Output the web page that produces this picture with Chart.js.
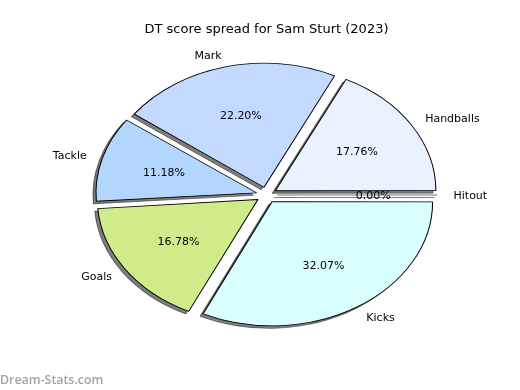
<!DOCTYPE html>
<html>
<head>
<meta charset="utf-8">
<script src="https://cdn.jsdelivr.net/npm/chart.js@4/dist/chart.umd.min.js"></script>
<style>
  html, body { margin: 0; padding: 0; background: #fff; }
  #wrap { width: 520px; height: 390px; }
</style>
</head>
<body>
<div id="wrap"><canvas id="pie" width="520" height="390"></canvas></div>
<script>
// values in matplotlib order (counter-clockwise from 3 o'clock)
const categories = ['Handballs', 'Mark', 'Tackle', 'Goals', 'Kicks', 'Hitout'];
const shares = [17.76, 22.20, 11.18, 16.78, 32.07, 0.00];
const sliceColors = ['#eaf1ff', '#c4d9ff', '#b3d6ff', '#d0eb8a', '#d9ffff', '#d0d0d0'];

// Chart.js goes clockwise, so feed it reversed
const cLabels = categories.slice().reverse();
const cValues = shares.slice().reverse();
const cColors = sliceColors.slice().reverse();

const SX = 1.295;        // stretch in x, the original pie is an ellipse
const FONT = '"DejaVu Sans", sans-serif';
const SHADOW = 'rgba(0,0,0,0.5)';

function stretch(ctx, cx, cy) {
  ctx.translate(cx, cy);
  ctx.scale(SX, 1);
  ctx.translate(-cx, -cy);
}

// chart.js grows small exploded arcs by offset*fix, take that back out
function undoGrow(arcs) {
  arcs.forEach(arc => {
    if (arc._R0 === undefined) arc._R0 = arc.outerRadius;
    const off = arc.options.offset / 4;
    const fix = 1 - Math.sin(Math.min(Math.PI, arc.circumference || 0));
    arc.outerRadius = arc._R0 - off * fix;
  });
}

function restoreR(arcs) {
  arcs.forEach(arc => { if (arc._R0 !== undefined) arc.outerRadius = arc._R0; });
}

function drawHitout(ctx, arc, color) {
  if (arc.circumference !== 0) return;
  const off = arc.options.offset / 4;
  const a = arc.startAngle;
  const R = arc._R0 || arc.outerRadius;
  ctx.beginPath();
  ctx.moveTo(arc.x + Math.cos(a) * off, arc.y + Math.sin(a) * off);
  ctx.lineTo(arc.x + Math.cos(a) * (off + R), arc.y + Math.sin(a) * (off + R));
  ctx.strokeStyle = color;
  ctx.lineWidth = 1;
  ctx.stroke();
}

const ellipsePie = {
  id: 'ellipsePie',
  beforeDatasetsDraw(chart) {
    const ctx = chart.ctx;
    const arcs = chart.getDatasetMeta(0).data;
    undoGrow(arcs);
    // shadow pass
    ctx.save();
    ctx.translate(-3, 2.5);
    stretch(ctx, arcs[0].x, arcs[0].y);
    arcs.forEach(arc => {
      const o = arc.options;
      arc.options = Object.assign({}, o, { backgroundColor: SHADOW, borderColor: SHADOW });
      arc.draw(ctx);
      arc.options = o;
      drawHitout(ctx, arc, SHADOW);
    });
    ctx.restore();
    ctx.save();
    stretch(ctx, arcs[0].x, arcs[0].y);
  },
  afterDatasetsDraw(chart) {
    const ctx = chart.ctx;
    const arcs = chart.getDatasetMeta(0).data;
    arcs.forEach(arc => drawHitout(ctx, arc, 'rgba(0,0,0,0.55)'));
    ctx.restore();
    restoreR(arcs);

    ctx.save();
    ctx.font = '11px ' + FONT;
    ctx.fillStyle = '#000';
    ctx.textBaseline = 'middle';
    arcs.forEach((arc, i) => {
      const mid = (arc.startAngle + arc.endAngle) / 2;
      const off = arc.options.offset / 4;
      const R = arc.outerRadius;
      const at = f => [arc.x + (f * R + off) * Math.cos(mid) * SX, arc.y + (f * R + off) * Math.sin(mid) + 1];
      let [px, py] = at(0.6);
      ctx.textAlign = 'center';
      ctx.fillText(cValues[i].toFixed(2) + '%', px, py);
      [px, py] = at(1.1);
      ctx.textAlign = Math.cos(mid) > 0 ? 'left' : 'right';
      ctx.fillText(cLabels[i], px, py);
    });
    // watermark
    ctx.font = '600 12.4px "Open Sans", sans-serif';
    ctx.fillStyle = '#a3a3a3';
    ctx.textAlign = 'left';
    ctx.fillText('Dream-Stats.com', 0, 380);
    ctx.restore();
  }
};

new Chart(document.getElementById('pie'), {
  type: 'pie',
  data: {
    labels: cLabels,
    datasets: [{
      data: cValues,
      backgroundColor: cColors,
      borderColor: '#000',
      borderWidth: 0.8,
      offset: 32,
      radius: 124
    }]
  },
  options: {
    responsive: false,
    animation: false,
    events: [],
    rotation: 90,
    layout: { padding: { left: 13, right: 0, top: 0, bottom: 37.6 } },
    plugins: {
      legend: { display: false },
      tooltip: { enabled: false },
      title: {
        display: true,
        text: 'DT score spread for Sam Sturt (2023)',
        color: '#000',
        font: { family: FONT, size: 13, weight: 'normal' },
        padding: { top: 22, bottom: 0 }
      }
    }
  },
  plugins: [ellipsePie]
});
</script>
</body>
</html>
